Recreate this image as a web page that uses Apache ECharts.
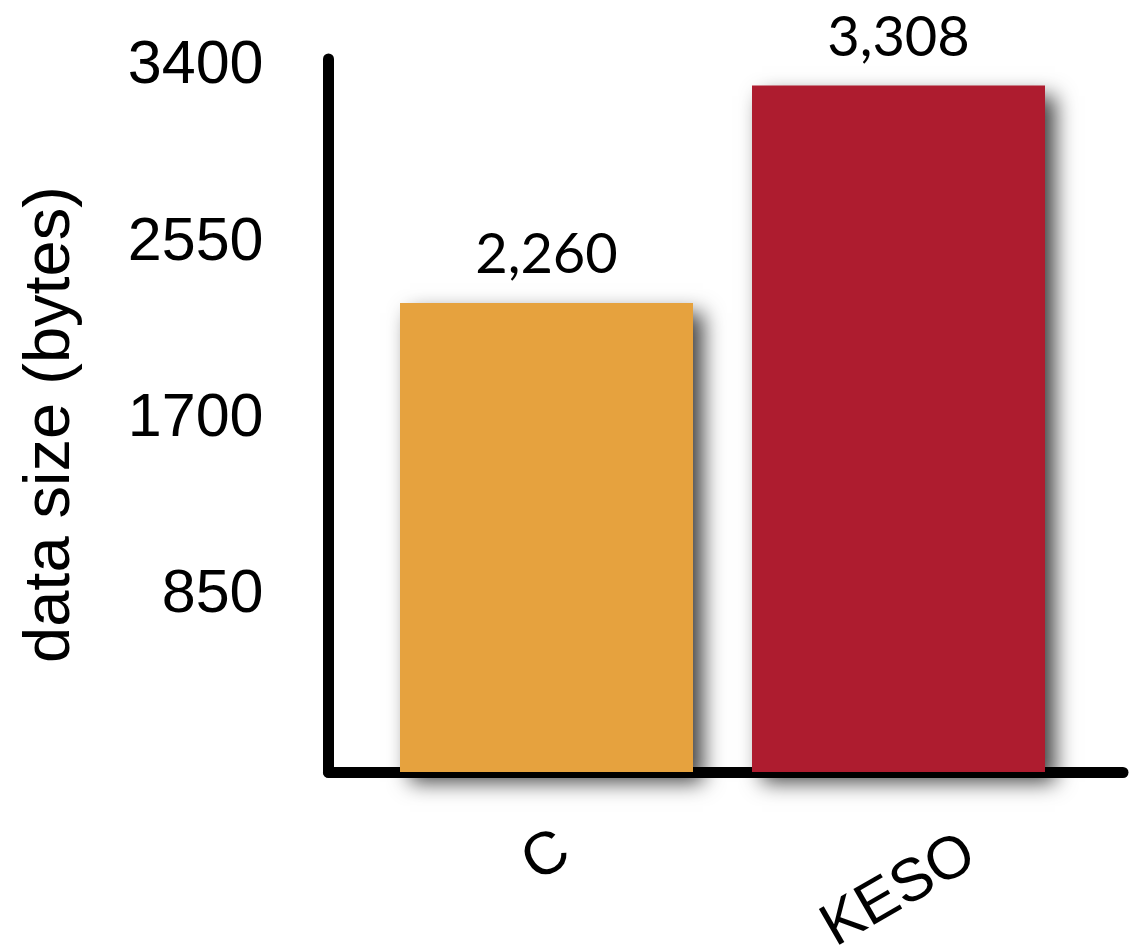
<!DOCTYPE html>
<html>
<head>
<meta charset="utf-8">
<script src="https://cdn.jsdelivr.net/npm/echarts@6/dist/echarts.min.js"></script>
<style>
  html, body { margin: 0; padding: 0; background: #fff; }
  #main { width: 1143px; height: 950px; }
</style>
</head>
<body>
<div id="main"></div>
<script>
// data
const categories = ['C', 'KESO']
const dataSize = [2260, 3308]
const barColors = ['#E6A23E', '#AE1C2F']
const yTicks = [850, 1700, 2550, 3400]

const yMax = 3436
const chart = echarts.init(document.getElementById('main'), null, { renderer: 'canvas' })

const sansFont = '"Liberation Sans", Arial, sans-serif'

chart.setOption({
  animation: false,
  grid: [
    // axis lines + y labels
    { left: 328.5, right: 20, top: 59, bottom: 178, outerBoundsMode: 'none' },
    // bars
    { left: 370.5, right: 68.5, top: 59, bottom: 178, outerBoundsMode: 'none' }
  ],
  xAxis: [
    {
      gridIndex: 0,
      type: 'category',
      data: categories,
      axisLine: { lineStyle: { color: '#000', width: 11 } },
      axisTick: { show: false },
      axisLabel: { show: false }
    },
    {
      gridIndex: 1,
      type: 'category',
      data: categories,
      axisLine: { show: false },
      axisTick: { show: false },
      axisLabel: {
        interval: 0,
        rotate: 30,
        align: 'center',
        verticalAlign: 'middle',
        margin: 85,
        lineHeight: 60,
        fontFamily: sansFont,
        fontSize: 60,
        color: '#000',
        // longer label sits lower, as in the original slide
        formatter: (v, i) => (i === 1 ? '\n' + v + '  ' : v)
      }
    }
  ],
  yAxis: [
    {
      gridIndex: 0,
      type: 'value',
      min: 0,
      max: yMax,
      interval: 850,
      name: 'data size (bytes) ',
      nameLocation: 'middle',
      nameGap: 245,
      nameTextStyle: { fontFamily: sansFont, fontSize: 65, color: '#000' },
      axisLine: { show: true, lineStyle: { color: '#000', width: 11 } },
      axisTick: { show: false },
      splitLine: { show: false },
      axisLabel: {
        margin: 65,
        fontFamily: sansFont,
        fontSize: 61,
        color: '#000',
        formatter: v => (yTicks.indexOf(v) >= 0 ? String(v) : '')
      }
    },
    {
      gridIndex: 1,
      type: 'value',
      min: 0,
      max: yMax,
      show: false,
      splitLine: { show: false }
    }
  ],
  series: [
    {
      type: 'bar',
      xAxisIndex: 1,
      yAxisIndex: 1,
      barWidth: 293,
      data: dataSize.map((v, i) => ({ value: v, itemStyle: { color: barColors[i] } })),
      itemStyle: {
        shadowBlur: 20,
        shadowColor: 'rgba(0,0,0,0.75)',
        shadowOffsetX: 10,
        shadowOffsetY: 10
      },
      label: {
        show: true,
        position: 'top',
        distance: 20,
        fontFamily: 'Lato, "Open Sans", sans-serif',
        fontSize: 56,
        color: '#000',
        formatter: p => p.value.toLocaleString('en-US')
      }
    }
  ]
})
</script>
</body>
</html>
